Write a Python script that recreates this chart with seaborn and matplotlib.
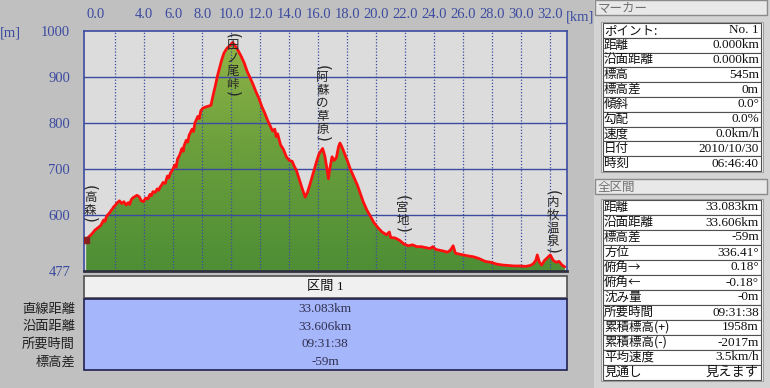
import numpy as np
import matplotlib
matplotlib.use('Agg')
import matplotlib.pyplot as plt
import seaborn as sns
from matplotlib.patches import Rectangle
from matplotlib.colors import LinearSegmentedColormap

sns.set_style('white')
plt.rcParams['font.family'] = ['Liberation Serif', 'Noto Sans CJK JP', 'DejaVu Sans']

# elevation profile (distance km / elevation m)
km = [0.0, 0.2, 0.4, 0.6, 0.8, 1.0, 1.1, 1.2, 1.3, 1.4, 1.5, 1.6, 1.7, 1.8, 1.9, 2.0, 2.15, 2.3,
      2.45, 2.6, 2.75, 2.9, 3.0, 3.1, 3.2, 3.3, 3.5, 3.65, 3.8, 3.95, 4.1, 4.25, 4.4, 4.5, 4.6,
      4.75, 4.9, 5.0, 5.1, 5.2, 5.3, 5.45, 5.6, 5.7, 5.8, 5.95, 6.1, 6.2, 6.3, 6.45, 6.6, 6.7,
      6.75, 6.9, 7.0, 7.1, 7.3, 7.4, 7.5, 7.7, 7.8, 7.9, 8.05, 8.2, 8.4, 8.6, 8.75, 8.9, 9.05,
      9.2, 9.35, 9.5, 9.7, 9.9, 10.1, 10.3, 10.5, 10.7, 10.9, 11.1, 11.3, 11.5, 11.7, 11.9,
      12.1, 12.3, 12.5, 12.7, 12.85, 13.0, 13.1, 13.2, 13.4, 13.6, 13.8, 14.0, 14.2, 14.35,
      14.5, 14.7, 14.9, 15.1, 15.25, 15.45, 15.65, 15.85, 16.05, 16.3, 16.45, 16.6, 16.7, 16.8,
      16.95, 17.1, 17.25, 17.4, 17.5, 17.65, 17.8, 18.0, 18.2, 18.45, 18.7, 18.9, 19.1, 19.35,
      19.6, 19.85, 20.1, 20.4, 20.7, 20.9, 21.0, 21.3, 21.6, 21.9, 22.2, 22.5, 22.8, 23.1,
      23.4, 23.7, 23.9, 24.1, 24.4, 24.7, 24.9, 25.1, 25.3, 25.45, 25.7, 26.0, 26.3, 26.7,
      27.1, 27.5, 27.9, 28.3, 28.7, 29.1, 29.5, 29.9, 30.3, 30.6, 30.8, 31.0, 31.1, 31.25,
      31.4, 31.6, 31.8, 32.0, 32.2, 32.4, 32.6, 32.8, 33.0]
elev = [545, 552, 558, 566, 571, 576, 582, 588, 585, 596, 600, 603, 608, 612, 617, 620, 626, 630,
        624, 628, 621, 626, 622, 632, 636, 638, 642, 639, 630, 628, 636, 634, 644, 641, 650,
        648, 656, 653, 660, 664, 670, 668, 684, 680, 690, 697, 708, 703, 721, 730, 744, 738,
        750, 762, 758, 773, 786, 781, 800, 814, 809, 826, 832, 834, 836, 838, 860, 880, 902,
        920, 938, 952, 962, 968, 975, 966, 956, 944, 930, 912, 898, 884, 868, 854,
        836, 822, 806, 792, 782, 786, 770, 776, 752, 742, 726, 718, 716, 705,
        696, 676, 656, 638, 648, 668, 690, 712, 732, 744, 728, 700, 678, 700,
        726, 718, 724, 748, 756, 746, 734, 718, 700, 682, 664, 646, 628, 610,
        596, 582, 572, 562, 556, 562, 550, 549, 544, 536, 532, 534, 530, 530,
        528, 526, 530, 524, 522, 520, 518, 522, 532, 516, 514, 512, 510, 508,
        504, 498, 496, 492, 490, 489, 488, 488, 487, 489, 492, 500, 512, 496,
        490, 500, 506, 512, 500, 496, 498, 490, 486]

x_ticks = list(range(0, 33, 2))
x_tick_labels = ['' if t == 2 else f'{t:.1f}' for t in x_ticks]
y_ticks = [477, 600, 700, 800, 900, 1000]

# place names along the route: name, distance km, elevation of label top
place_names = ['田ノ尾峠', '阿蘇の草原', '高森', '宮地', '内牧温泉']
place_km = [10.1, 16.3, 0.27, 21.8, 32.2]
place_top = [996, 926, 665, 643, 654]

section_labels = ['直線距離', '沿面距離', '所要時間', '標高差']
section_values = ['33.083km', '33.606km', '09:31:38', '-59m']

marker_labels = ['ポイント:', '距離', '沿面距離', '標高', '標高差', '傾斜', '勾配', '速度', '日付', '時刻']
marker_values = ['No. 1', '0.000km', '0.000km', '545m', '0m', '0.0°', '0.0%', '0.0km/h',
                 '2010/10/30', '06:46:40']

total_labels = ['距離', '沿面距離', '標高差', '方位', '俯角→', '俯角←', '沈み量', '所要時間',
                '累積標高(+)', '累積標高(-)', '平均速度', '見通し']
total_values = ['33.083km', '33.606km', '-59m', '336.41°', '0.18°', '-0.18°', '-0m', '09:31:38',
                '1958m', '-2017m', '3.5km/h', '見えます']

W, H = 770, 388
blue = '#3c4ba0'
jp = ['Noto Sans CJK JP', 'DejaVu Sans']
fig = plt.figure(figsize=(W / 100, H / 100), dpi=100, facecolor='#c0c0c0')

# pixel overlay for panels and tables
ov = fig.add_axes([0, 0, 1, 1], zorder=0)
ov.set_xlim(0, W)
ov.set_ylim(H, 0)
ov.axis('off')
ov.patch.set_visible(False)

ax = fig.add_axes([84 / W, (H - 271) / H, 483 / W, 240 / H], zorder=1)
ax.set_facecolor('#dcdcdc')
ax.set_xlim(-0.15, 33.15)
ax.set_ylim(477, 1000)

cmap = LinearSegmentedColormap.from_list('g', ['#4e8e35', '#6a9f3c', '#94b548'])
grad = np.linspace(0, 1, 256).reshape(-1, 1)
im = ax.imshow(grad, extent=[-0.15, 33.15, 477, 1000], origin='lower', aspect='auto',
               cmap=cmap, zorder=1)
poly = ax.fill_between(km, elev, 477, color='none', lw=0)
im.set_clip_path(poly.get_paths()[0], transform=poly.get_transform())

for t in y_ticks[1:-1]:
    ax.axhline(t, color=blue, lw=1.0, zorder=2)
for t in x_ticks[1:]:
    ax.axvline(t, color=blue, lw=0.9, ls=(0, (1, 1.5)), zorder=2)

sns.lineplot(x=km, y=elev, ax=ax, color='#ff1010', lw=2.0, sort=False, estimator=None, zorder=4)
ax.plot([km[0]], [elev[0]], marker='s', ms=5, color='#8b2020', zorder=5)

ax.set_xticks(x_ticks, x_tick_labels)
ax.set_yticks(y_ticks, [str(t) for t in y_ticks])
ax.xaxis.tick_top()
ax.tick_params(axis='x', length=0, pad=7, labelsize=10.5, labelcolor=blue)
ax.tick_params(axis='y', length=0, pad=10, labelsize=10.5, labelcolor=blue)
ax.get_xticklabels()[0].set_horizontalalignment('left')
ax.set_xlabel('')
ax.set_ylabel('')
for s in ['top', 'left', 'right']:
    ax.spines[s].set_color(blue)
    ax.spines[s].set_linewidth(1.2)
ax.spines['bottom'].set_color('#303040')
ax.spines['bottom'].set_linewidth(2)

for name, x, top in zip(place_names, place_km, place_top):
    chars = ['('] + list(name) + [')']
    off = 0
    for ch in chars:
        if ch in '()':
            ax.annotate(ch, (x, top), xytext=(0, -off - 3), textcoords='offset pixels',
                        ha='center', va='center', rotation=-90, fontsize=11,
                        family='DejaVu Sans', zorder=6)
            off += 6
        else:
            off += 6.5
            ax.annotate(ch, (x, top), xytext=(0, -off), textcoords='offset pixels',
                        ha='center', va='center', fontsize=9, family=jp, zorder=6)
            off += 6.5

ov.text(10, 33, '[m]', ha='center', va='center', color=blue, fontsize=10.5)
ov.text(580, 17, '[km]', ha='center', va='center', color=blue, fontsize=10.5)

# section table below the chart
ov.add_patch(Rectangle((84, 276), 483, 22, facecolor='#f0f0f0', edgecolor='#505050', lw=1.2))
ov.text(325, 287, '区間 1', ha='center', va='center', fontsize=9.5, color='#101010')
ov.add_patch(Rectangle((84, 299), 483, 71, facecolor='#a6b6fa', edgecolor='#202050', lw=1.2))
for i, (lab, val) in enumerate(zip(section_labels, section_values)):
    yy = 309 + i * 17.7
    ov.text(75, yy, lab, ha='right', va='center', fontsize=9.5, family=jp, color='#202020')
    ov.text(325, yy, val, ha='center', va='center', fontsize=9.5, color='#303050')

# right side panel
ov.add_patch(Rectangle((594, 0), 176, H, facecolor='#d4d4d4', edgecolor='none'))
ov.add_patch(Rectangle((595, 0), 172, 15, facecolor='#e8e8e8', edgecolor='#8a8a8a', lw=1))
ov.text(598, 8, 'マーカー', ha='left', va='center', fontsize=9, family=jp, color='#707070')
ov.add_patch(Rectangle((595, 179), 172, 15, facecolor='#e8e8e8', edgecolor='#8a8a8a', lw=1))
ov.text(598, 187, '全区間', ha='left', va='center', fontsize=9, family=jp, color='#707070')


def side_table(labels, values, top, rh):
    ov.add_patch(Rectangle((601, top - 1), 162, rh * len(labels) + 2, facecolor='#f4f4f4',
                           edgecolor='#a0a0a0', lw=0.8))
    for i, (lab, val) in enumerate(zip(labels, values)):
        y0 = top + i * rh
        ov.add_patch(Rectangle((603, y0), 158, rh, facecolor='white', edgecolor='#505050', lw=0.8))
        ov.text(604, y0 + rh / 2, lab, ha='left', va='center', fontsize=9, family=jp,
                color='#101010')
        ov.text(759, y0 + rh / 2, val, ha='right', va='center', fontsize=9.5, color='#101010')


side_table(marker_labels, marker_values, 23, 14.8)
side_table(total_labels, total_values, 200, 15)

fig.savefig('out.png', dpi=100, facecolor=fig.get_facecolor())
